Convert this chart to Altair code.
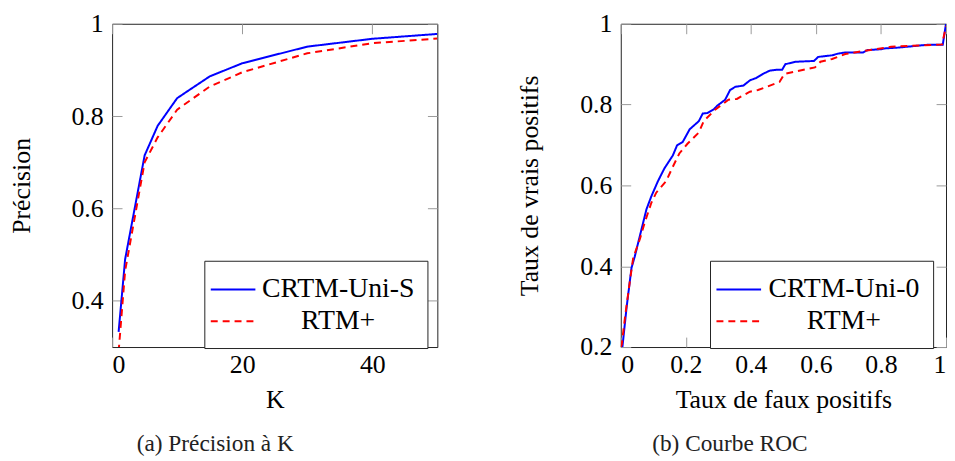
import altair as alt
import pandas as pd

# ---------- data: (a) precision at K ----------
k_values = [1, 2, 5, 7, 10, 15, 20, 30, 40, 50]
prec_crtm = [0.333, 0.49, 0.715, 0.779, 0.839, 0.886, 0.9145, 0.9505, 0.9675, 0.978]
prec_rtm = [0.29, 0.465, 0.70, 0.754, 0.814, 0.864, 0.895, 0.936, 0.958, 0.968]
names_a = ["CRTM-Uni-S", "RTM+"]

# ---------- data: (b) ROC curve ----------
roc_crtm_fpr = [0.0, 0.005, 0.018, 0.033, 0.043, 0.059, 0.079, 0.094, 0.114, 0.134,
                0.16, 0.173, 0.19, 0.212, 0.24, 0.252, 0.266, 0.286, 0.296, 0.321,
                0.336, 0.352, 0.377, 0.397, 0.417, 0.437, 0.458, 0.478, 0.496, 0.506,
                0.538, 0.594, 0.607, 0.65, 0.667, 0.69, 0.745, 0.759, 0.801, 0.811,
                0.852, 0.942, 0.99, 1.0]
roc_crtm_tpr = [0.2, 0.2, 0.299, 0.396, 0.424, 0.476, 0.541, 0.573, 0.61, 0.642,
                0.674, 0.699, 0.707, 0.739, 0.759, 0.778, 0.779, 0.788, 0.797, 0.812,
                0.836, 0.844, 0.847, 0.86, 0.866, 0.876, 0.884, 0.886, 0.886, 0.9,
                0.906, 0.908, 0.918, 0.922, 0.926, 0.929, 0.929, 0.935, 0.937, 0.939,
                0.941, 0.948, 0.948, 1.0]
roc_rtm_fpr = [0.0, 0.003, 0.013, 0.028, 0.038, 0.059, 0.074, 0.094, 0.109, 0.139,
               0.16, 0.18, 0.205, 0.24, 0.255, 0.291, 0.331, 0.357, 0.397, 0.422,
               0.488, 0.503, 0.538, 0.597, 0.614, 0.65, 0.69, 0.75, 0.831, 0.988, 1.0]
roc_rtm_tpr = [0.2, 0.206, 0.274, 0.363, 0.42, 0.468, 0.509, 0.557, 0.582, 0.61,
               0.646, 0.679, 0.703, 0.731, 0.759, 0.788, 0.812, 0.814, 0.832, 0.836,
               0.856, 0.876, 0.882, 0.892, 0.906, 0.913, 0.925, 0.933, 0.943, 0.949, 0.994]
names_b = ["CRTM-Uni-0", "RTM+"]

FONT = "Liberation Serif"
FS = 26
BLUE = "#0000ff"
RED = "#ff0000"
TICK = "#9a9a9a"
LBL = "toString(datum.value)"

df_a = pd.DataFrame({
    "x": k_values + k_values,
    "y": prec_crtm + prec_rtm,
    "serie_a": [names_a[0]] * len(k_values) + [names_a[1]] * len(k_values),
    "o": list(range(len(k_values))) * 2,
})
df_b = pd.DataFrame({
    "x": roc_crtm_fpr + roc_rtm_fpr,
    "y": roc_crtm_tpr + roc_rtm_tpr,
    "serie_b": [names_b[0]] * len(roc_crtm_fpr) + [names_b[1]] * len(roc_rtm_fpr),
    "o": list(range(len(roc_crtm_fpr))) + list(range(len(roc_rtm_fpr))),
})


def panel(df, field, names, xdom, ydom, xticks, yticks, xtitle, ytitle, caption,
          ytitle_pad, cap_dx, leg_x):
    xs = alt.Scale(domain=xdom, nice=False, zero=False)
    ys = alt.Scale(domain=ydom, nice=False, zero=False)
    legend = alt.Legend(
        title=None, orient="none", legendX=leg_x, legendY=239, fillColor="white",
        strokeColor="#222222", padding=13, symbolType="M-1.5,0H1.5", symbolSize=900,
        symbolStrokeWidth=2, labelFont=FONT, labelFontSize=28, labelColor="black",
        labelAlign="center", labelOffset=90, rowPadding=2,
    )
    main = alt.Chart(df).mark_line(strokeWidth=2, clip=True).encode(
        x=alt.X("x:Q", scale=xs, title=xtitle,
                axis=alt.Axis(orient="bottom", values=xticks, labelExpr=LBL, offset=-10,
                              tickSize=10, tickColor=TICK, domain=False, grid=False,
                              labelPadding=5, titlePadding=9,
                              labelFont=FONT, labelFontSize=FS, labelColor="black",
                              titleFont=FONT, titleFontSize=FS, titleFontWeight="normal",
                              titleColor="black")),
        y=alt.Y("y:Q", scale=ys, title=ytitle,
                axis=alt.Axis(orient="left", values=yticks, labelExpr=LBL, offset=-10,
                              tickSize=10, tickColor=TICK, domain=False, grid=False,
                              labelPadding=9, titlePadding=ytitle_pad,
                              labelFont=FONT, labelFontSize=FS, labelColor="black",
                              titleFont=FONT, titleFontSize=FS, titleFontWeight="normal",
                              titleColor="black")),
        color=alt.Color(f"{field}:N", scale=alt.Scale(domain=names, range=[BLUE, RED]),
                        legend=legend),
        strokeDash=alt.StrokeDash(f"{field}:N",
                                  scale=alt.Scale(domain=names, range=[[1, 0], [7, 5]]),
                                  legend=legend),
        order="o:Q",
    )
    frame_ticks = alt.Chart(df).mark_line(opacity=0).encode(
        x=alt.X("x:Q", scale=xs, title=None,
                axis=alt.Axis(orient="top", values=xticks, labels=False, offset=-10,
                              tickSize=10, tickColor=TICK, domain=False, grid=False,
                              minExtent=0, maxExtent=0)),
        y=alt.Y("y:Q", scale=ys, title=None,
                axis=alt.Axis(orient="right", values=yticks, labels=False, offset=-10,
                              tickSize=10, tickColor=TICK, domain=False, grid=False,
                              minExtent=0, maxExtent=0)),
        detail=f"{field}:N",
    )
    return alt.layer(main, frame_ticks).resolve_axis(x="independent", y="independent").properties(
        width=328, height=326,
        title=alt.TitleParams(caption, orient="bottom", font=FONT, fontSize=23.5,
                              fontWeight="normal", color="#222222", offset=20, dx=cap_dx),
    )


left = panel(df_a, "serie_a", names_a, [0, 50], [0.3, 1], [0, 20, 40], [0.4, 0.6, 0.8, 1],
             "K", "Précision", "(a) Précision à K", 37, -60, 93)
right = panel(df_b, "serie_b", names_b, [0, 1], [0.2, 1], [0, 0.2, 0.4, 0.6, 0.8, 1],
              [0.2, 0.4, 0.6, 0.8, 1], "Taux de faux positifs", "Taux de vrais positifs",
              "(b) Courbe ROC", 37, -54, 90)

chart = alt.hconcat(left, right, spacing=79).resolve_scale(
    color="independent", strokeDash="independent", x="independent", y="independent"
).resolve_legend(color="independent", strokeDash="independent").configure_view(
    stroke="#222222", strokeWidth=1
).properties(padding={"left": 0, "top": 0, "right": 0, "bottom": 0})

chart.save("out.html", embed_options={"renderer": "svg", "actions": False})
